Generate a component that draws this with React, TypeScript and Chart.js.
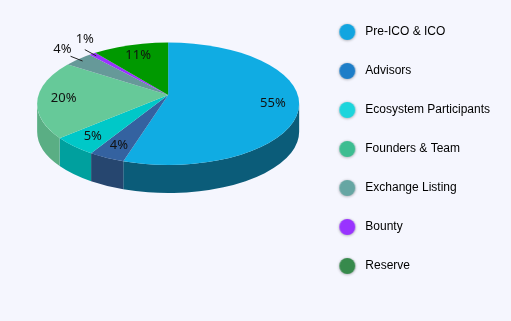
import React, { useEffect, useRef } from "react";
import { Chart, registerables } from "chart.js";

Chart.register(...registerables);

// ---- data ----
const categories = [
  "Pre-ICO & ICO",
  "Advisors",
  "Ecosystem Participants",
  "Founders & Team",
  "Exchange Listing",
  "Bounty",
  "Reserve",
];
const shares = [55, 4, 5, 20, 4, 1, 11];

// ---- styles ----
const topColors = ["#10ace3", "#3462a0", "#00c8c8", "#66c999", "#669999", "#9933ff", "#009900"];
const sideColors = ["#0b5c79", "#26466f", "#00a09e", "#5aae84", "#4f7a7a", "#6f22bb", "#006e00"];
const legendColors = ["#12a5e0", "#1e7ec8", "#1dd5dc", "#3dbd91", "#66a6a3", "#9933ff", "#378a4c"];

const BG = "#f5f6fe";
const TILT = 0.48; // vertical squash of the slice fan
const APEX_Y = 95; // where the slices meet
const OUT_DY = 8.75; // outline centre below the apex
const OUT_RX = 131;
const OUT_RY = 61.25;
const DEPTH = 28;
const FAN_RADIUS = 150;
const LABEL_FONT = "13px 'Noto Sans', 'DejaVu Sans', sans-serif";

function makeDot(color: string): HTMLCanvasElement {
  const c = document.createElement("canvas");
  c.width = 26;
  c.height = 26;
  const g = c.getContext("2d")!;
  g.shadowColor = "rgba(0,0,0,0.35)";
  g.shadowBlur = 3;
  g.shadowOffsetY = 0.5;
  g.beginPath();
  g.arc(13, 13, 8, 0, Math.PI * 2);
  g.fillStyle = color;
  g.fill();
  return c;
}

// where a slice ray (angle t) leaves the top outline
function hit(cx: number, t: number) {
  const dx = Math.cos(t);
  const dy = TILT * Math.sin(t);
  const A = (dx / OUT_RX) ** 2 + (dy / OUT_RY) ** 2;
  const B = (-2 * dy * OUT_DY) / (OUT_RY * OUT_RY);
  const C = (OUT_DY / OUT_RY) ** 2 - 1;
  const k = (-B + Math.sqrt(B * B - 4 * A * C)) / (2 * A);
  const len = Math.hypot(dx, dy);
  return { k, x: cx + dx * k, y: APEX_Y + dy * k, dx, dy, ux: dx / len, uy: dy / len };
}

function outlineParam(cx: number, t: number) {
  const h = hit(cx, t);
  const oy = APEX_Y + OUT_DY;
  let p = Math.atan2((h.y - oy) / OUT_RY, (h.x - cx) / OUT_RX);
  while (p < t - Math.PI) p += Math.PI * 2;
  while (p > t + Math.PI) p -= Math.PI * 2;
  return p;
}

const pie3d = {
  id: "pie3d",
  beforeDatasetsDraw(chart: any) {
    const meta = chart.getDatasetMeta(0);
    const arcs = meta.data;
    const ctx = chart.ctx;
    ctx.save();
    if (!arcs.length) return;
    const cx = arcs[0].x;
    const cy = arcs[0].y;
    const oy = APEX_Y + OUT_DY;
    arcs.forEach((arc: any, i: number) => {
      const a = Math.max(outlineParam(cx, arc.startAngle), 0);
      const b = Math.min(outlineParam(cx, arc.endAngle), Math.PI);
      if (b <= a) return;
      ctx.beginPath();
      ctx.ellipse(cx, oy, OUT_RX, OUT_RY, 0, a, b, false);
      ctx.ellipse(cx, oy + DEPTH, OUT_RX, OUT_RY, 0, b, a, true);
      ctx.closePath();
      ctx.fillStyle = sideColors[i];
      ctx.fill();
    });
    ctx.beginPath();
    ctx.ellipse(cx, oy, OUT_RX, OUT_RY, 0, 0, Math.PI * 2);
    ctx.clip();
    ctx.translate(0, APEX_Y);
    ctx.scale(1, TILT);
    ctx.translate(0, -cy);
  },
  afterDatasetsDraw(chart: any) {
    const ctx = chart.ctx;
    ctx.restore();
    const meta = chart.getDatasetMeta(0);
    const arcs = meta.data;
    if (!arcs.length) return;
    const cx = arcs[0].x;
    const total = shares.reduce((s, v) => s + v, 0);
    ctx.save();
    ctx.font = LABEL_FONT;
    ctx.fillStyle = "#111";
    ctx.strokeStyle = "#222";
    ctx.lineWidth = 1;
    const placed: { x0: number; y0: number; x1: number; y1: number }[] = [];
    arcs.forEach((arc: any, i: number) => {
      const mid = (arc.startAngle + arc.endAngle) / 2;
      const h = hit(cx, mid);
      const hs = hit(cx, arc.startAngle);
      const he = hit(cx, arc.endAngle);
      const chord = Math.hypot(hs.x - he.x, hs.y - he.y);
      const text = Math.round((shares[i] / total) * 100) + "%";
      if (chord >= 27) {
        const x = cx + h.dx * h.k * 0.8;
        const y = APEX_Y + h.dy * h.k * 0.8;
        ctx.textAlign = "center";
        ctx.textBaseline = "middle";
        ctx.fillText(text, x, y);
      } else {
        const px = cx + h.dx * h.k * 0.95;
        const py = APEX_Y + h.dy * h.k * 0.95;
        const ex = px + h.ux * 13;
        const ey = py + h.uy * 13;
        ctx.beginPath();
        ctx.moveTo(px, py);
        ctx.lineTo(ex, ey);
        ctx.stroke();
        const w = ctx.measureText(text).width;
        const th = 9.5;
        let box = { x0: ex + 1 - w, y0: ey - 3 - th, x1: ex + 1, y1: ey - 3 };
        for (const p of placed) {
          if (box.x0 < p.x1 && box.x1 > p.x0 && box.y0 < p.y1 && box.y1 > p.y0) {
            // sit above the neighbour, centred on the leader end
            box = { x0: ex - w / 2, x1: ex + w / 2, y1: p.y0 - 0.5, y0: p.y0 - 0.5 - th };
          }
        }
        placed.push(box);
        ctx.textAlign = "left";
        ctx.textBaseline = "alphabetic";
        ctx.fillText(text, box.x0, box.y1);
      }
    });
    ctx.restore();
  },
};

export default function App() {
  const ref = useRef<HTMLCanvasElement | null>(null);
  useEffect(() => {
    document.body.style.margin = "0";
    document.body.style.background = BG;
    const canvas = ref.current;
    if (!canvas) return;
    const dots = legendColors.map(makeDot);
    const chart = new Chart(canvas, {
      type: "pie",
      data: {
        labels: categories,
        datasets: [
          {
            data: shares,
            backgroundColor: topColors,
            borderWidth: 0,
            radius: FAN_RADIUS,
            clip: false,
          } as any,
        ],
      },
      options: {
        responsive: false,
        animation: false,
        events: [],
        layout: { padding: { left: 28, right: 11, top: -1, bottom: 0 } },
        plugins: {
          tooltip: { enabled: false },
          legend: {
            position: "right",
            align: "start",
            labels: {
              usePointStyle: true,
              pointStyleWidth: 24,
              padding: 27,
              color: "#333",
              font: { size: 12, family: "'Liberation Sans', Arial, sans-serif" },
              generateLabels: () =>
                categories.map((text, i) => ({
                  text,
                  fillStyle: legendColors[i],
                  strokeStyle: legendColors[i],
                  lineWidth: 0,
                  pointStyle: dots[i] as any,
                  hidden: false,
                  index: i,
                  datasetIndex: 0,
                })),
            },
          },
        },
      },
      plugins: [pie3d],
    });
    return () => chart.destroy();
  }, []);
  return (
    <div style={{ width: 511, height: 321, background: BG }}>
      <canvas ref={ref} width={511} height={321} style={{ display: "block" }} />
    </div>
  );
}
